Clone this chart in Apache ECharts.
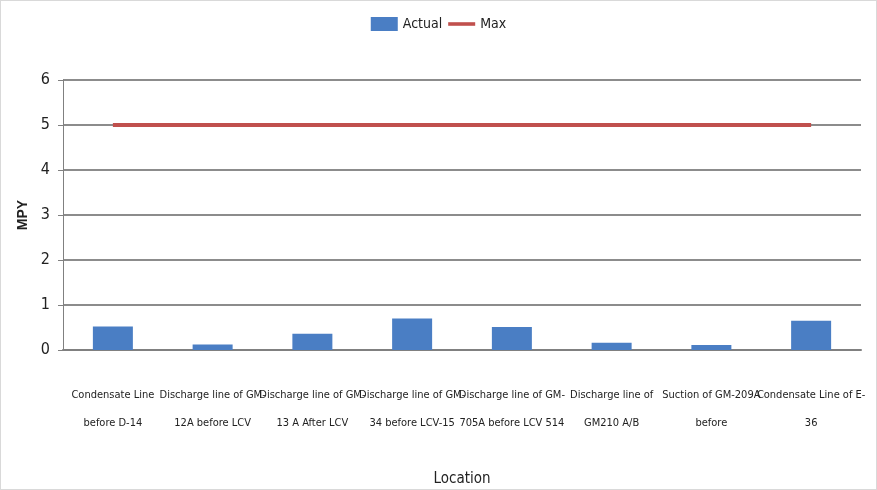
<!DOCTYPE html>
<html>
<head>
<meta charset="utf-8">
<script src="https://cdn.jsdelivr.net/npm/echarts@6/dist/echarts.min.js"></script>
<style>
  html, body { margin: 0; padding: 0; background: #fff; }
  #chart { width: 877px; height: 490px; box-sizing: border-box; border: 1px solid #d9d9d9; }
</style>
</head>
<body>
<div id="chart"></div>
<script>
// Corrosion rate by sampling location (mils per year)
const locations = [
  'Condensate Line\nbefore D-14',
  'Discharge line of GM-\n12A before LCV',
  'Discharge line of GM-\n13 A After LCV',
  'Discharge line of GM-\n34 before LCV-15',
  'Discharge line of GM-\n705A before LCV 514',
  'Discharge line of\nGM210 A/B',
  'Suction of GM-209A\nbefore',
  'Condensate Line of E-\n36'
];
const actual = [0.52, 0.12, 0.36, 0.70, 0.51, 0.16, 0.11, 0.65];
const maxLimit = [5, 5, 5, 5, 5, 5, 5, 5];
const yTicks = { min: 0, max: 6, interval: 1 };

const font = '"DejaVu Sans Condensed", "Liberation Sans", sans-serif';

const chart = echarts.init(document.getElementById('chart'));
chart.setOption({
  animation: false,
  textStyle: { fontFamily: font },
  legend: {
    top: 11,
    left: 'center',
    itemWidth: 27,
    itemHeight: 14,
    itemGap: 6,
    textStyle: { fontFamily: font, fontSize: 14, color: '#222' },
    data: [
      { name: 'Actual', icon: 'rect' },
      { name: 'Max', icon: 'path://M0,6 L30,6 L30,10 L0,10 Z' }
    ]
  },
  grid: { left: 62, right: 15, top: 79, bottom: 139, containLabel: false, outerBoundsMode: 'none' },
  xAxis: {
    type: 'category',
    data: locations,
    name: 'Location',
    nameLocation: 'middle',
    nameGap: 122,
    nameTextStyle: { fontFamily: font, fontSize: 15, color: '#222' },
    axisLine: { lineStyle: { color: '#808080', width: 2 } },
    axisTick: { show: false },
    axisLabel: {
      interval: 0,
      margin: 31,
      fontFamily: font,
      fontSize: 11,
      lineHeight: 28,
      color: '#222'
    },
    splitLine: { show: false }
  },
  yAxis: {
    type: 'value',
    min: yTicks.min,
    max: yTicks.max,
    interval: yTicks.interval,
    name: 'MPY',
    nameLocation: 'middle',
    nameGap: 28,
    nameRotate: 90,
    nameTextStyle: { fontFamily: 'Liberation Sans, sans-serif', fontSize: 14, fontWeight: 'bold', color: '#222' },
    axisLine: { show: true, lineStyle: { color: '#808080', width: 1 } },
    axisTick: { show: true, length: 5, lineStyle: { color: '#808080' } },
    axisLabel: { fontFamily: font, fontSize: 16, color: '#222', margin: 13 },
    splitLine: { lineStyle: { color: '#8c8c8c', width: 2 } }
  },
  series: [
    {
      name: 'Actual',
      type: 'bar',
      data: actual,
      barWidth: 40,
      itemStyle: { color: '#4a7ec4' }
    },
    {
      name: 'Max',
      type: 'line',
      data: maxLimit,
      symbol: 'none',
      lineStyle: { color: '#c0504d', width: 4 },
      itemStyle: { color: '#c0504d' }
    }
  ]
});
</script>
</body>
</html>
